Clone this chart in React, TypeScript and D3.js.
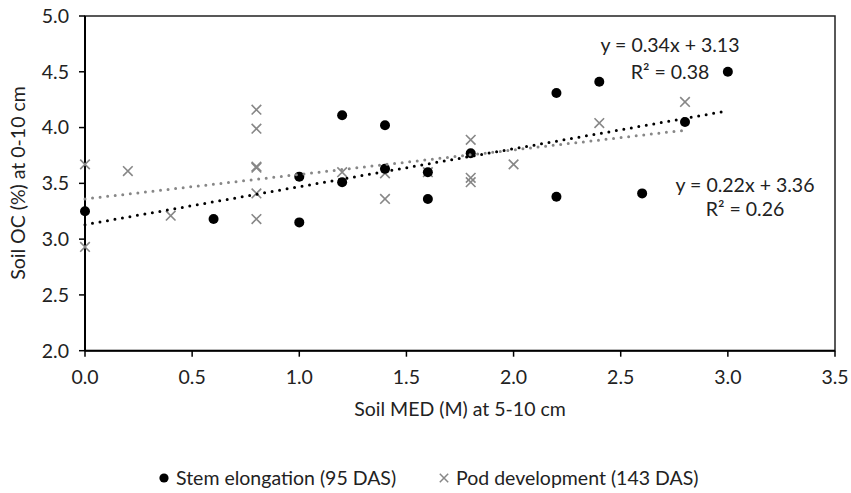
import React from "react";
import * as d3 from "d3";

// Stem elongation (95 DAS)
const stemX = [0, 0.6, 1.0, 1.0, 1.2, 1.2, 1.4, 1.4, 1.6, 1.6, 1.8, 2.2, 2.2, 2.4, 2.6, 2.8, 3.0];
const stemY = [3.25, 3.18, 3.15, 3.56, 4.11, 3.51, 4.02, 3.63, 3.60, 3.36, 3.77, 4.31, 3.38, 4.41, 3.41, 4.05, 4.5];

// Pod development (143 DAS)
const podX = [0, 0, 0.2, 0.4, 0.8, 0.8, 0.8, 0.8, 0.8, 0.8, 1.2, 1.4, 1.4, 1.6, 1.8, 1.8, 1.8, 2.0, 2.4, 2.8];
const podY = [3.67, 2.93, 3.61, 3.21, 4.16, 3.99, 3.65, 3.64, 3.41, 3.18, 3.60, 3.59, 3.36, 3.60, 3.89, 3.55, 3.51, 3.67, 4.04, 4.23];

// Linear trend lines: [slope, intercept, xStart, xEnd]
const stemTrend = [0.34, 3.13, 0, 3.0];
const podTrend = [0.22, 3.36, 0, 2.8];

const xTicks = [0, 0.5, 1.0, 1.5, 2.0, 2.5, 3.0, 3.5];
const yTicks = [2.0, 2.5, 3.0, 3.5, 4.0, 4.5, 5.0];

const seriesNames = ["Stem elongation (95 DAS)", "Pod development (143 DAS)"];
const stemEq = ["y = 0.34x + 3.13", "R² = 0.38"];
const podEq = ["y = 0.22x + 3.36", "R² = 0.26"];

const W = 851;
const H = 493;
const FONT = "Lato, 'Open Sans', sans-serif";
const FS = 19.5;
const GRAY = "#878787";

export default function App() {
  const x = d3.scaleLinear().domain([0, 3.5]).range([85, 835]);
  const y = d3.scaleLinear().domain([2, 5]).range([350.7, 16]);

  const trendPath = (t: number[]) => {
    const pts: [number, number][] = [t[2], t[3]].map((v) => [x(v), y(t[0] * v + t[1])]);
    return d3.line()(pts) || "";
  };

  const cross = (cx: number, cy: number, s: number) =>
    `M${cx - s},${cy - s}L${cx + s},${cy + s}M${cx - s},${cy + s}L${cx + s},${cy - s}`;

  return (
    <svg
      width={W}
      height={H}
      style={{ position: "absolute", left: 0, top: 0, background: "#fff" }}
      fontFamily={FONT}
    >
      <rect x={0} y={0} width={W} height={H} fill="#fff" />
      {/* plot frame */}
      <rect
        x={x(0)}
        y={y(5)}
        width={x(3.5) - x(0)}
        height={y(2) - y(5)}
        fill="none"
        stroke="#222"
        strokeWidth={1.5}
      />
      {/* axes */}
      <line x1={x(0)} x2={x(0)} y1={y(5)} y2={y(2)} stroke="#000" strokeWidth={2} />
      <line x1={x(0)} x2={x(3.5)} y1={y(2)} y2={y(2)} stroke="#000" strokeWidth={2} />
      {yTicks.map((t) => (
        <g key={"y" + t}>
          <line x1={x(0) - 6} x2={x(0)} y1={y(t)} y2={y(t)} stroke="#000" strokeWidth={1.5} />
          <text x={x(0) - 16} y={y(t)} dy="0.35em" textAnchor="end" fontSize={FS} fill="#222">
            {t.toFixed(1)}
          </text>
        </g>
      ))}
      {xTicks.map((t) => (
        <g key={"x" + t}>
          <line x1={x(t)} x2={x(t)} y1={y(2)} y2={y(2) + 6} stroke="#000" strokeWidth={1.5} />
          <text x={x(t)} y={377} dy="0.35em" textAnchor="middle" fontSize={FS} fill="#222">
            {t.toFixed(1)}
          </text>
        </g>
      ))}
      {/* axis titles */}
      <text x={460} y={409} dy="0.35em" textAnchor="middle" fontSize={FS} fill="#222">
        Soil MED (M) at 5-10 cm
      </text>
      <text
        transform="translate(18,183) rotate(-90)"
        dy="0.35em"
        textAnchor="middle"
        fontSize={FS}
        fill="#222"
      >
        Soil OC (%) at 0-10 cm
      </text>

      {/* pod crosses */}
      {podX.map((v, i) => (
        <path key={"p" + i} d={cross(x(v), y(podY[i]), 4.8)} stroke={GRAY} strokeWidth={1.6} fill="none" />
      ))}
      {/* stem circles */}
      {stemX.map((v, i) => (
        <circle key={"s" + i} cx={x(v)} cy={y(stemY[i])} r={5} fill="#000" />
      ))}

      {/* trend lines */}
      <path
        d={trendPath(podTrend)}
        stroke={GRAY}
        strokeWidth={3}
        strokeLinecap="round"
        strokeDasharray="0 7.6"
        fill="none"
      />
      <path
        d={trendPath(stemTrend)}
        stroke="#000"
        strokeWidth={3}
        strokeLinecap="round"
        strokeDasharray="0 7.6"
        fill="none"
      />

      {/* equations */}
      <text x={670} y={45} dy="0.35em" textAnchor="middle" fontSize={FS} fill="#222">
        {stemEq[0]}
      </text>
      <text x={670} y={72} dy="0.35em" textAnchor="middle" fontSize={FS} fill="#222">
        {stemEq[1]}
      </text>
      <text x={745} y={185} dy="0.35em" textAnchor="middle" fontSize={FS} fill="#222">
        {podEq[0]}
      </text>
      <text x={745} y={209} dy="0.35em" textAnchor="middle" fontSize={FS} fill="#222">
        {podEq[1]}
      </text>

      {/* legend */}
      <circle cx={164} cy={478} r={4.6} fill="#000" />
      <text x={176} y={478} dy="0.35em" fontSize={FS} fill="#222">
        {seriesNames[0]}
      </text>
      <path d={cross(444, 478, 4.2)} stroke={GRAY} strokeWidth={1.5} fill="none" />
      <text x={456} y={478} dy="0.35em" fontSize={FS} fill="#222">
        {seriesNames[1]}
      </text>
    </svg>
  );
}
